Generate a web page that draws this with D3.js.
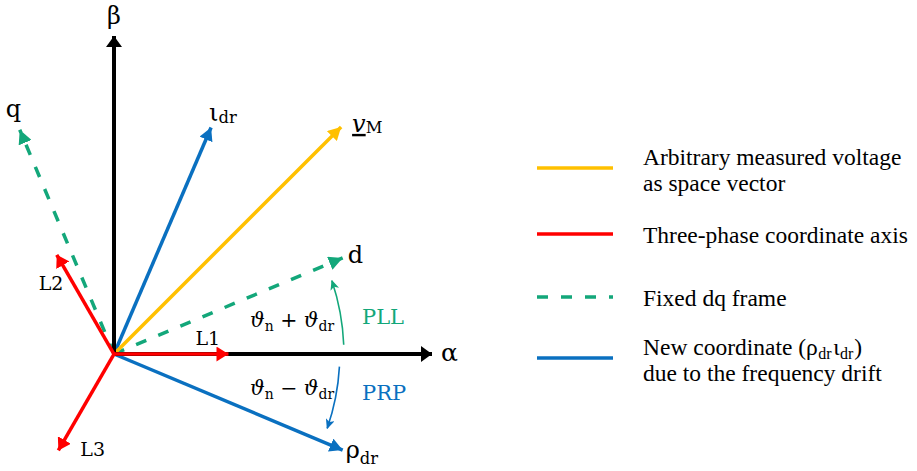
<!DOCTYPE html>
<html>
<head>
<meta charset="utf-8">
<script src="https://cdn.jsdelivr.net/npm/d3@7"></script>
<style>
  html, body { margin: 0; padding: 0; background: #fff; }
  svg text { font-family: "DejaVu Serif", "Liberation Serif", serif; fill: #000; }
  svg text.legend-text { font-family: "Liberation Serif", "DejaVu Serif", serif; }
</style>
</head>
<body>
<svg id="chart" width="917" height="471"></svg>
<script>
// ---- Vector data (angle in degrees, magnitude relative to the αβ axis length) ----
const axisNames   = ["α", "β"];
const axisAngles  = [0, 90];
const axisLengths = [1.0, 1.0];

const phaseNames   = ["L1", "L2", "L3"];
const phaseAngles  = [0, 120, 240];
const phaseLengths = [0.36, 0.36, 0.35];

const frameNames   = ["d", "q"];
const frameAngles  = [22.8, 112.8];
const frameLengths = [0.78, 0.765];

const driftNames   = ["ρ", "ι"];
const driftAngles  = [-22.8, 66.8];
const driftLengths = [0.78, 0.775];

const voltageAngle  = 45;
const voltageLength = 1.01;

// Rotation arcs: PLL (towards d) and PRP (towards ρdr)
const arcNames   = ["PLL", "PRP"];
const arcRadii   = [0.723, 0.71];
const arcStarts  = [2.3, -3.2];
const arcEnds    = [18.6, -19.2];

const legendLabels = [
  ["Arbitrary measured voltage", "as space vector"],
  ["Three-phase coordinate axis"],
  ["Fixed dq frame"],
  ["New coordinate (ρdrιdr)", "due to the frequency drift"]
];

// ---- Colours ----
const C = {
  black: "#000000",
  yellow: "#FFC000",
  red: "#FF0000",
  green: "#13A77A",
  blue: "#0A70C0"
};

const svg = d3.select("#chart");
const origin = { x: 114, y: 354 };
const r = d3.scaleLinear().domain([0, 1]).range([0, 318]);
const rad = d => d * Math.PI / 180;
const px = (a, m) => origin.x + r(m) * Math.cos(rad(a));
const py = (a, m) => origin.y - r(m) * Math.sin(rad(a));

// ---- Arrow markers ----
const defs = svg.append("defs");
function marker(id, color, len, wid) {
  defs.append("marker")
    .attr("id", id)
    .attr("markerUnits", "userSpaceOnUse")
    .attr("viewBox", `0 0 ${len} ${wid}`)
    .attr("markerWidth", len).attr("markerHeight", wid)
    .attr("refX", len).attr("refY", wid / 2)
    .attr("orient", "auto")
    .append("path")
    .attr("d", `M0,0 L${len},${wid / 2} L0,${wid} Z`)
    .attr("fill", color);
}
marker("ah-black", C.black, 11, 16);
marker("ah-red", C.red, 12, 15);
marker("ah-yellow", C.yellow, 13, 14);
marker("ah-green", C.green, 14, 14);
marker("ah-blue", C.blue, 13, 14);
function smallMarker(id, color) {
  defs.append("marker")
    .attr("id", id)
    .attr("markerUnits", "userSpaceOnUse")
    .attr("viewBox", "0 0 10 9")
    .attr("markerWidth", 10).attr("markerHeight", 9)
    .attr("refX", 9).attr("refY", 4.5)
    .attr("orient", "auto")
    .append("path")
    .attr("d", "M0,0 L10,4.5 L0,9 L2.5,4.5 Z")
    .attr("fill", color);
}
smallMarker("sm-green", C.green);
smallMarker("sm-blue", C.blue);

function vector(g, angle, mag, color, mk, width, dash) {
  g.append("line")
    .attr("x1", origin.x).attr("y1", origin.y)
    .attr("x2", px(angle, mag)).attr("y2", py(angle, mag))
    .attr("stroke", color)
    .attr("stroke-width", width)
    .attr("stroke-dasharray", dash || null)
    .attr("marker-end", `url(#${mk})`);
}

const g = svg.append("g");

// dq frame (dashed)
frameAngles.forEach((a, i) => vector(g, a, frameLengths[i], C.green, "ah-green", 3.5, "11,13"));
// drift frame
driftAngles.forEach((a, i) => vector(g, a, driftLengths[i], C.blue, "ah-blue", 3.5));
// measured voltage
vector(g, voltageAngle, voltageLength, C.yellow, "ah-yellow", 3.5);
// αβ axes
axisAngles.forEach((a, i) => vector(g, a, axisLengths[i], C.black, "ah-black", 4));
// three-phase axes
phaseAngles.forEach((a, i) => vector(g, a, phaseLengths[i], C.red, "ah-red", 3.5));

// rotation arcs
const arcColors = [C.green, C.blue];
const arcMarkers = ["sm-green", "sm-blue"];
arcNames.forEach((n, i) => {
  const p = d3.path();
  const a0 = -rad(arcStarts[i]), a1 = -rad(arcEnds[i]);
  p.arc(origin.x, origin.y, r(arcRadii[i]), a0, a1, arcEnds[i] > arcStarts[i]);
  g.append("path")
    .attr("d", p.toString())
    .attr("fill", "none")
    .attr("stroke", arcColors[i])
    .attr("stroke-width", 1.6)
    .attr("marker-end", `url(#${arcMarkers[i]})`);
});

// ---- Labels ----
const lab = svg.append("g");
function label(x, y, parts, size, color, anchor, cls) {
  const t = lab.append("text")
    .attr("class", cls || null)
    .attr("x", x).attr("y", y)
    .attr("font-size", size)
    .attr("text-anchor", anchor || "start")
    .style("fill", color || C.black);
  parts.forEach(p => {
    const ts = t.append("tspan").text(p.t);
    if (p.sub) ts.attr("font-size", size * 0.68);
    if (p.dy != null) ts.attr("dy", p.dy);
    if (p.dx != null) ts.attr("dx", p.dx);
    if (p.it) ts.style("font-style", "italic");
    if (p.ul) ts.style("text-decoration", "underline");
  });
  return t;
}

// axis labels
label(px(axisAngles[1], axisLengths[1]), py(axisAngles[1], axisLengths[1]) - 12, [{ t: axisNames[1] }], 24, C.black, "middle");
label(px(axisAngles[0], axisLengths[0]) + 9, py(axisAngles[0], axisLengths[0]) + 7, [{ t: axisNames[0] }], 25);

// phase labels
label(px(phaseAngles[0], phaseLengths[0]) - 33, py(phaseAngles[0], phaseLengths[0]) - 9, [{ t: phaseNames[0] }], 19);
label(px(phaseAngles[1], phaseLengths[1]) - 18, py(phaseAngles[1], phaseLengths[1]) + 35, [{ t: phaseNames[1] }], 19);
label(px(phaseAngles[2], phaseLengths[2]) + 22, py(phaseAngles[2], phaseLengths[2]) + 6, [{ t: phaseNames[2] }], 19);

// frame labels
label(px(frameAngles[0], frameLengths[0]) + 5, py(frameAngles[0], frameLengths[0]) + 5, [{ t: frameNames[0] }], 24);
label(px(frameAngles[1], frameLengths[1]) - 14, py(frameAngles[1], frameLengths[1]) - 13, [{ t: frameNames[1] }], 24);

// drift frame labels
label(px(driftAngles[0], driftLengths[0]) + 3, py(driftAngles[0], driftLengths[0]) + 8,
  [{ t: driftNames[0] }, { t: "dr", sub: true, dy: 6 }], 24);
label(px(driftAngles[1], driftLengths[1]) - 2, py(driftAngles[1], driftLengths[1]) - 6,
  [{ t: driftNames[1] }, { t: "dr", sub: true, dy: 2 }], 24);

// voltage label
label(px(voltageAngle, voltageLength) + 11, py(voltageAngle, voltageLength) + 5,
  [{ t: "v", it: true, ul: true }, { t: "M", sub: true, dy: 1 }], 24);

// angle labels
label(250, 327, [{ t: "ϑ", it: true }, { t: "n", sub: true, dy: 4 }, { t: " + ", dy: -4 }, { t: "ϑ", it: true }, { t: "dr", sub: true, dy: 4 }], 20.5);
label(250, 395, [{ t: "ϑ", it: true }, { t: "n", sub: true, dy: 4 }, { t: " − ", dy: -4 }, { t: "ϑ", it: true }, { t: "dr", sub: true, dy: 4 }], 20.5);
label(362, 324, [{ t: arcNames[0] }], 21, C.green);
label(362, 400, [{ t: arcNames[1] }], 21, C.blue);

// ---- Legend ----
const legendY = [168, 234, 297, 358];
const legendColors = [C.yellow, C.red, C.green, C.blue];
const legendDash = [null, null, "11,13", null];
const legendTextY = [165, 243, 306, 355];
const leg = svg.append("g");
legendLabels.forEach((lines, i) => {
  leg.append("line")
    .attr("x1", 537).attr("x2", 613)
    .attr("y1", legendY[i]).attr("y2", legendY[i])
    .attr("stroke", legendColors[i])
    .attr("stroke-width", 3.5)
    .attr("stroke-dasharray", legendDash[i]);
  lines.forEach((ln, j) => {
    const y = legendTextY[i] + j * 26;
    if (ln.includes("(ρdrιdr)")) {
      label(643, y, [
        { t: "New coordinate (ρ" },
        { t: "dr", sub: true, dy: 4, dx: 0.5 },
        { t: "ι", dy: -4, dx: 1.5 },
        { t: "dr", sub: true, dy: 4, dx: 0.5 },
        { t: ")", dy: -4, dx: 1 }
      ], 23.5, null, null, "legend-text");
    } else {
      label(643, y, [{ t: ln }], 23.5, null, null, "legend-text");
    }
  });
});
</script>
</body>
</html>
